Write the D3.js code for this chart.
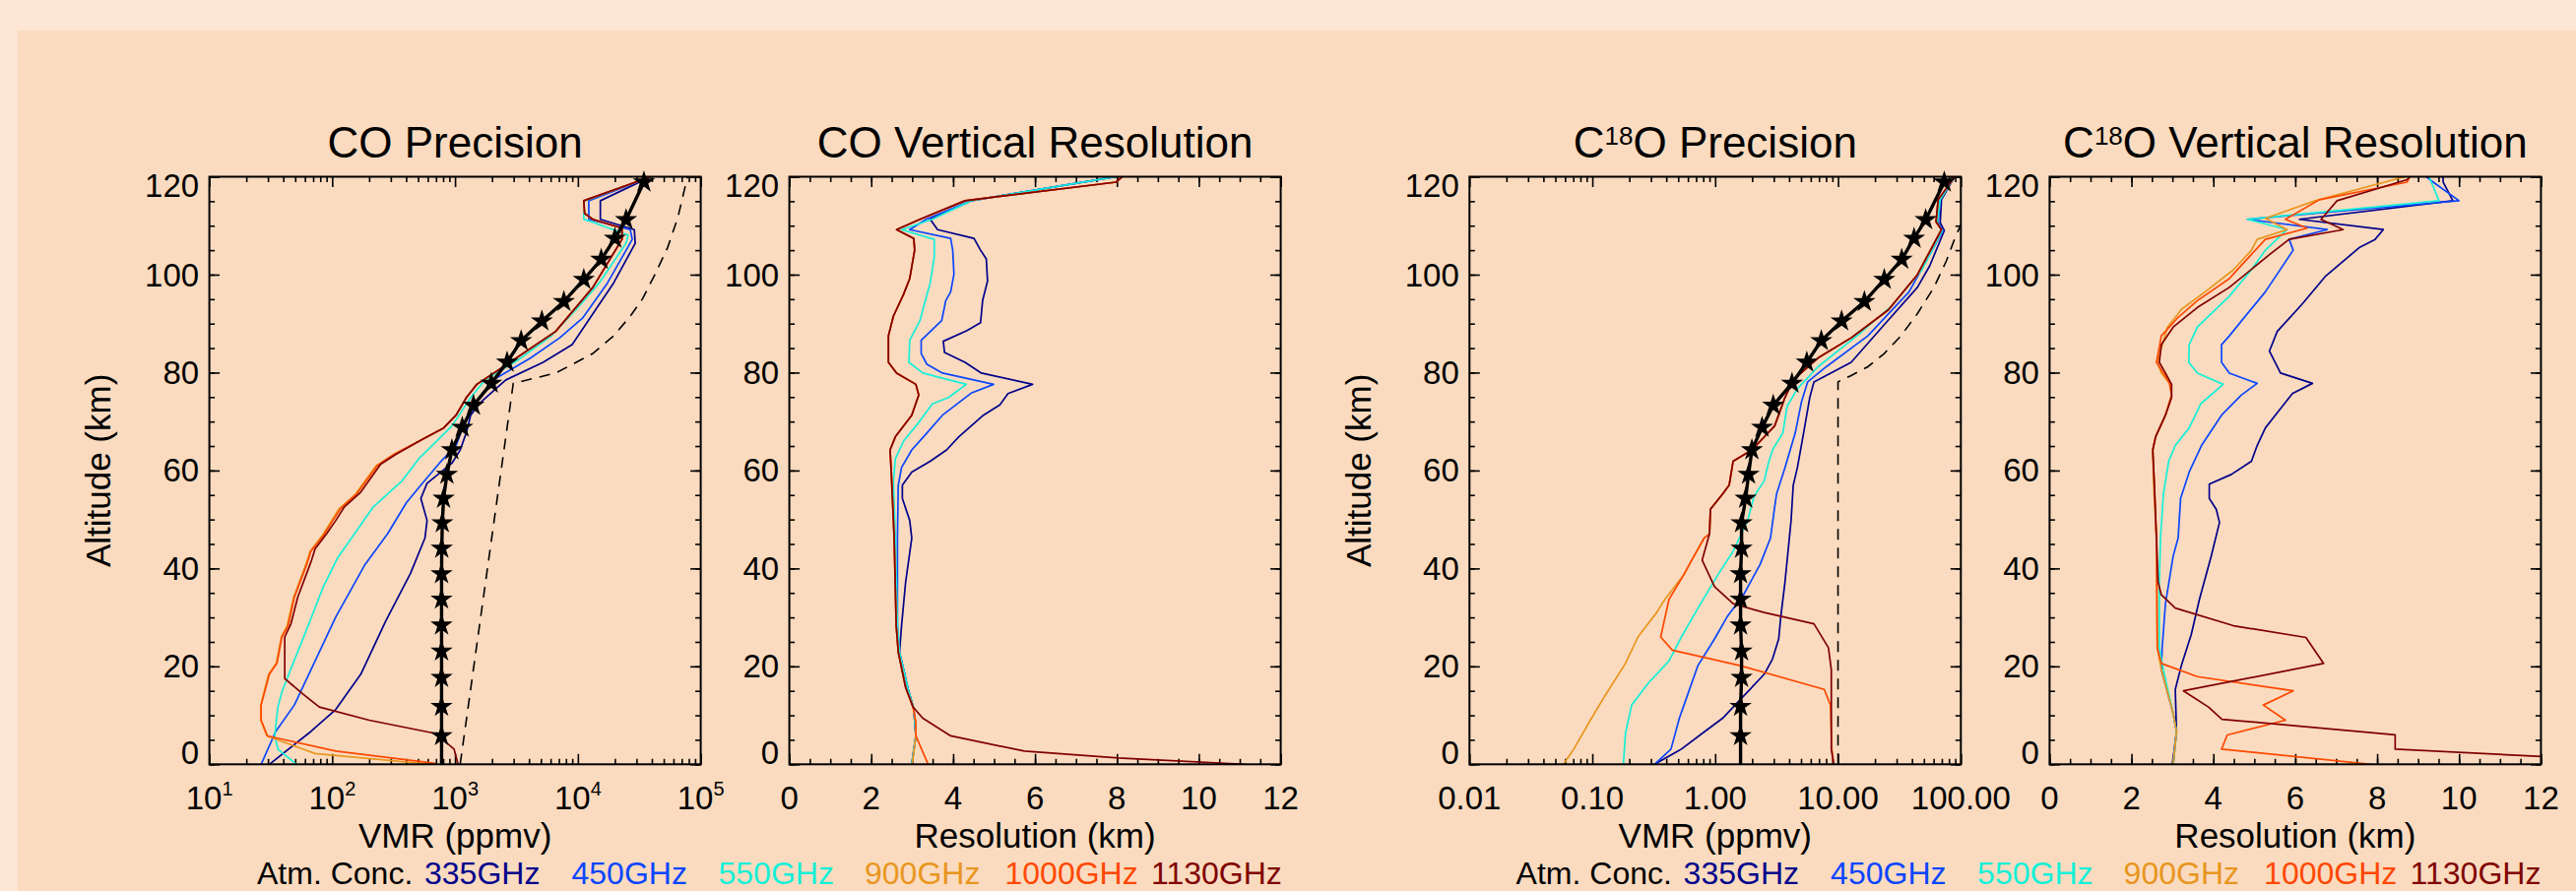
<!DOCTYPE html>
<html><head><meta charset="utf-8">
<script src="https://cdn.jsdelivr.net/npm/d3@7"></script>
<style>body{margin:0;background:#fde6d4;} svg{display:block;font-family:"Liberation Sans",Arial,Helvetica,sans-serif;}</style>
</head><body><svg id="c" width="2616" height="905"></svg>
<script>
// ---------------- DATA ----------------
const legendLabels = ["Atm. Conc.", "335GHz", "450GHz", "550GHz", "900GHz", "1000GHz", "1130GHz"];
const yTicks = [0, 20, 40, 60, 80, 100, 120];
const coTicks = [10, 100, 1000, 10000, 100000];
const c18Ticks = [0.01, 0.1, 1, 10, 100];
const c18TickLabels = ["0.01", "0.10", "1.00", "10.00", "100.00"];
const resTicks = [0, 2, 4, 6, 8, 10, 12];

// atmospheric concentration (altitude km)
const altStar = [0,5.8,11.8,17.7,23.1,28.4,33.7,38.9,44.1,49.3,54.3,59.2,64.2,68.8,73.3,77.8,82.1,86.5,90.5,94.5,99.0,103.1,107.4,111.2,118.9];
const coAtm = [777,777,777,777,777,777,777,777,780,788,807,859,943,1145,1413,1973,2653,3452,5093,7691,11170,15480,20000,24660,34500];
const c18oAtm = [1.61,1.61,1.61,1.64,1.64,1.61,1.61,1.61,1.64,1.64,1.77,1.87,1.99,2.41,2.97,4.22,5.57,7.31,10.7,16.4,23.8,33.0,41.6,51.7,73.3];

// dashed reference curves [value, altitude]
const coDash = [[1101,0],[2979,77.8],[6577,79.9],[9705,82.1],[13240,83.9],[19540,87.5],[26680,91.5],[33650,95.1],[42520,100.1],[53710,105.5],[65200,111.7],[78000,120]];
const c18oDash = [[10,0],[10,78.1],[12.8,79.4],[17.5,81.2],[23.8,83.9],[32.5,87.5],[44.2,92],[60.4,97.4],[76.2,102.8],[89,107.3],[100,110.2]];

// CO precision (ppmv) [value, altitude]
const coPrec335 = [[39350,120],[15240,115.1],[15240,111.3],[28800,109.2],[29300,106.4],[19540,98.3],[13240,92],[8990,85.7],[5213,82.1],[2594,78.5],[1626,74],[1340,71.3],[1238,67.8],[1102,64.2],[944,61.5],[592,57.4],[527,54.3],[592,49.8],[569,46.2],[434,39],[272,29.2],[171,18.4],[107,11.2],[67.1,6.7],[30.8,0]];
const coPrec450 = [[39350,120],[12270,115.1],[12270,111.3],[26680,109.2],[27730,107.2],[17420,98.3],[10910,91.1],[7113,87.1],[4130,83],[2052,78.5],[1504,74],[1191,69.6],[1019,65.1],[746,61.5],[527,57],[401,53.4],[283,47.1],[185,40.8],[107,30.1],[67.1,19.3],[49.2,12.1],[34.7,6.7],[26.4,0]];
const coPrec550 = [[39350,120],[11170,115],[11170,111.3],[13240,110.7],[25650,108.1],[24650,106.4],[14900,98.3],[9705,92.9],[6089,87.5],[3271,82.6],[1757,78.5],[1340,74.9],[944,69.1],[507,62.4],[371,57.9],[215,52.5],[171,48.9],[111,42.2],[84.8,36.3],[59.7,26.5],[47.3,20.2],[39.0,14.8],[36.1,11.7],[34.1,5.8],[36.1,3.1],[51.2,0]];
const coPrec900 = [[39350,120],[11170,115.1],[11340,112.5],[13240,111.3],[22860,109.5],[22860,107.2],[13240,97.4],[6590,88.4],[2800,82.1],[1504,77.6],[1238,74.9],[1019,71.3],[808,68.7],[547,66.4],[318,63.3],[228,61],[155,55.2],[113,52.1],[97,49.4],[83,46.7],[66,43.5],[61,40.8],[48.5,34.1],[43,28.3],[38.5,26],[35,20.6],[30.4,18.4],[26.2,12.1],[26.2,9],[29.4,5.8],[72.6,2.2],[640,0]];
const coPrec1000 = [[39350,120],[11170,115.1],[11340,112.5],[13240,111.3],[22860,109.5],[22860,107.2],[13240,97.4],[6590,88.4],[2800,82.1],[1504,77.6],[1238,74.9],[1019,71.3],[808,68.7],[547,66.4],[318,63.3],[233,61],[158,55.2],[116,52.1],[99,49.4],[84.8,46.7],[67.1,43.5],[62.1,40.8],[49.2,34.1],[43.8,28.3],[39.0,26],[35.5,20.6],[30.8,18.4],[26.4,12.1],[26.4,9],[29.7,5.8],[107,2.7],[692,0.2]];
const coPrec1130 = [[39350,120],[11170,115.1],[11340,112.5],[13240,111.3],[22860,109.5],[22860,107.2],[13240,97.4],[6590,88.4],[2800,82.1],[1504,77.6],[1238,74.9],[1019,71.3],[808,68.7],[547,66.4],[330,63.3],[248,61.3],[171,55.6],[125,52.5],[107,49.8],[90.2,47.1],[72.6,44],[67.1,41.3],[52.4,34.1],[46.2,28.7],[41.1,26],[41.1,17.5],[57.4,14.4],[78.5,11.7],[200,9],[692,6.3],[982,3.1],[1059,0]];

// CO vertical resolution (km) [value, altitude]
const coRes335 = [[7.98,120],[4.44,115.1],[3.44,111.3],[3.62,109.2],[4.51,107.4],[4.67,105],[4.81,103.2],[4.84,98.7],[4.72,94.7],[4.67,90.2],[4.34,88.6],[3.76,86.4],[3.79,84.1],[4.29,82.1],[4.69,79.9],[5.94,77.6],[5.34,75.7],[5.14,73.4],[4.74,71.3],[4.14,66.9],[3.84,64.2],[3.44,61.9],[2.99,59.7],[2.76,57],[2.76,54.3],[2.94,49.8],[2.99,46.2],[2.84,37.2],[2.74,28.3],[2.69,22.9],[2.89,15.7],[3.04,11.2],[3.09,5.8],[2.99,0]];
const coRes450 = [[7.98,120],[4.44,115.1],[3.34,111.3],[2.94,109.2],[3.94,107.4],[3.99,105],[4.02,100.1],[3.94,96.5],[3.82,94.7],[3.72,90.6],[3.22,86.6],[3.22,83.9],[3.36,81.7],[3.74,79.9],[4.99,77.6],[4.44,75.8],[3.74,71.3],[3.32,67.3],[2.99,64.2],[2.74,60.6],[2.66,57],[2.64,46.2],[2.64,28.3],[2.69,22.9],[2.89,15.7],[3.04,11.2],[3.09,5.8],[2.99,0]];
const coRes550 = [[7.98,120],[4.44,115.1],[3.49,111.3],[2.74,109.2],[3.54,107.2],[3.54,103.7],[3.44,98.3],[3.32,94.7],[3.19,90.6],[2.94,86.6],[2.92,82.1],[3.26,79.9],[4.32,77.6],[3.89,74.9],[3.49,73.6],[3.14,69.6],[2.79,66],[2.59,62.4],[2.54,57.9],[2.59,46.2],[2.64,28.3],[2.69,22.9],[2.89,15.7],[3.04,11.2],[3.09,5.8],[2.99,0]];
const coRes900 = [[8.13,120],[7.98,118.9],[4.29,115.1],[3.19,111.3],[2.62,109.2],[3.04,107.4],[3.06,105],[2.94,99.2],[2.79,96],[2.54,91.5],[2.42,87.5],[2.42,82.1],[2.62,79.9],[3.09,77.6],[3.16,75.4],[2.99,71.3],[2.59,66.9],[2.46,64.2],[2.49,59.7],[2.56,46.2],[2.61,28.3],[2.66,22.9],[2.84,15.7],[3.02,11.7],[3.09,8.5],[3.09,5.8],[3.0,0]];
const coRes1000 = [[8.13,120],[7.98,118.9],[4.29,115.1],[3.19,111.3],[2.62,109.2],[3.04,107.4],[3.06,105],[2.94,99.2],[2.79,96],[2.54,91.5],[2.42,87.5],[2.42,82.1],[2.62,79.9],[3.09,77.6],[3.16,75.4],[2.99,71.3],[2.59,66.9],[2.46,64.2],[2.49,59.7],[2.56,46.2],[2.61,28.3],[2.66,22.9],[2.84,15.7],[3.02,11.7],[3.09,8.5],[3.09,5.8],[3.39,0]];
const coRes1130 = [[8.13,120],[7.98,118.9],[4.29,115.1],[3.19,111.3],[2.62,109.2],[3.04,107.4],[3.06,105],[2.94,99.2],[2.79,96],[2.54,91.5],[2.42,87.5],[2.42,82.1],[2.62,79.9],[3.09,77.6],[3.16,75.4],[2.99,71.3],[2.59,66.9],[2.46,64.2],[2.49,59.7],[2.56,46.2],[2.61,28.3],[2.66,22.9],[2.84,15.7],[3.02,11.7],[3.26,9.4],[3.94,5.8],[5.74,2.7],[8.03,1.3],[11.12,0]];

// C18O precision (ppmv) [value, altitude]
const c18Prec335 = [[89,120],[69.5,115.3],[67.9,110.6],[73.3,109],[55.8,101.8],[44.3,97.4],[23.8,89.8],[12.8,82.1],[6.37,78.1],[5.89,74.9],[5.25,67.7],[4.67,60.6],[4.32,57],[4.15,49.8],[3.70,37.2],[3.42,30.1],[3.29,25.6],[2.93,21.5],[2.51,18.4],[1.70,13.9],[1.15,9.4],[0.783,6.3],[0.531,3.1],[0.321,0]];
const c18Prec450 = [[89,120],[67.9,115.3],[65.3,110.6],[71.6,109],[37.9,96.5],[17.5,87.5],[8.03,81.2],[5.66,78.1],[5.04,74],[4.49,67.7],[3.70,60.6],[3.16,55.2],[3.05,52.5],[2.82,46.2],[2.32,40.8],[1.70,34.6],[1.25,30.1],[0.988,25.6],[0.725,20.2],[0.574,13],[0.511,9.4],[0.437,3.1],[0.321,0]];
const c18Prec550 = [[89,120],[67.9,115.3],[64.3,110.6],[70.5,109],[47.9,100.9],[27.8,93.8],[14.9,87.9],[6.88,81.2],[4.67,76.7],[3.85,73.1],[3.56,67.7],[2.93,64.2],[2.71,61.5],[2.51,57.9],[2.07,54.7],[1.84,49.8],[1.40,43.5],[1.07,39],[0.725,31.9],[0.531,26],[0.421,21.1],[0.286,16.6],[0.209,12.1],[0.186,6.3],[0.179,0]];
const c18Prec900 = [[89,120],[65.3,115.3],[62.8,110.8],[69.5,109.2],[44.3,100],[25.7,92.8],[12.8,87.1],[6.88,83],[4.32,78.5],[3.70,74.9],[3.05,69.1],[1.99,64.2],[1.40,61.9],[1.30,57],[1.15,55.2],[0.915,52.1],[0.900,47.1],[0.814,46.2],[0.645,41.7],[0.552,38.6],[0.390,33.7],[0.334,31],[0.235,26],[0.186,20.6],[0.126,13.9],[0.0964,9],[0.0706,3.1],[0.0582,0]];
const c18Prec1000 = [[89,120],[65.3,115.3],[62.8,110.8],[69.5,109.2],[44.3,100],[25.7,92.8],[12.8,87.1],[6.88,83],[4.32,78.5],[3.70,74.9],[3.05,69.1],[1.99,64.2],[1.40,61.9],[1.30,57],[1.15,55.2],[0.915,52.1],[0.900,47.1],[0.814,46.2],[0.645,41.7],[0.552,38.6],[0.421,33.7],[0.360,26],[0.448,23.3],[1.57,20.2],[7.73,15.3],[8.68,12.1],[8.90,3.1],[9.23,0]];
const c18Prec1130 = [[89,120],[65.3,115.3],[62.8,110.8],[69.5,109.2],[44.3,100],[25.7,92.8],[12.8,87.1],[6.88,83],[4.32,78.5],[3.70,74.9],[3.05,69.1],[1.99,64.2],[1.40,61.9],[1.30,57],[1.15,55.2],[0.915,52.1],[0.900,47.1],[0.783,41.7],[0.988,36.3],[1.40,32.8],[2.51,31],[6.37,28.7],[8.36,23.8],[8.82,19.3],[8.82,3.1],[9.23,0]];

// C18O vertical resolution (km) [value, altitude]
const c18Res335 = [[9.61,120],[9.61,118.9],[9.85,115.1],[6.10,111.3],[8.15,109.2],[7.95,107.2],[7.56,105.5],[6.73,99.6],[6.15,93.8],[5.56,88.4],[5.37,84.4],[5.64,79.9],[6.42,77.8],[5.93,75.7],[5.56,71.8],[5.27,68.7],[5.07,65.1],[4.93,61.9],[4.44,59.2],[3.90,57.2],[3.90,54.3],[4.07,52.1],[4.15,49.4],[3.95,42.6],[3.66,33.7],[3.46,26.5],[3.22,20.2],[3.07,15.3],[3.10,6.7],[3.00,0]];
const c18Res450 = [[9.2,120],[9.37,118.9],[10.0,115.1],[4.83,111.3],[6.78,109.2],[5.85,107.2],[5.95,105],[5.27,96.5],[4.39,87.5],[4.20,85.7],[4.20,82.1],[4.39,79.9],[5.07,77.8],[4.68,75.4],[4.20,71.3],[3.71,65.1],[3.41,59.7],[3.20,54.3],[3.14,46.2],[3.02,42.6],[2.83,32.8],[2.75,23.8],[2.73,19.3],[3.02,10.3],[3.10,6.7],[3.02,0]];
const c18Res550 = [[9.27,120],[9.51,115.1],[4.83,111.3],[5.80,109.2],[5.27,105],[4.93,101],[4.39,95.6],[3.61,89.3],[3.41,85.7],[3.40,82.1],[3.61,79.9],[4.24,77.6],[3.69,73.6],[3.41,68.7],[3.07,65.1],[2.91,61.9],[2.78,55.2],[2.71,46.2],[2.68,37.2],[2.68,23.8],[2.78,19.3],[3.02,10.3],[3.10,6.7],[3.02,0]];
const c18Res900 = [[8.68,120],[6.49,115.1],[5.27,111.5],[5.80,109.2],[5.07,107.2],[4.93,105],[4.49,101],[3.80,96.5],[3.22,92.9],[2.88,89.3],[2.63,82.1],[2.73,79.9],[2.93,77.8],[2.98,75.4],[2.83,71.3],[2.59,66.9],[2.52,64.2],[2.54,57],[2.61,46.2],[2.63,23.8],[2.73,19.3],[3.02,10.3],[3.10,6.7],[3.02,0]];
const c18Res1000 = [[8.8,120],[8.73,118.9],[6.59,115.3],[5.76,111.3],[6.29,109.5],[5.27,107.2],[4.98,104.6],[4.39,99.2],[3.61,94.7],[3.12,91.1],[2.73,87.5],[2.61,82.1],[2.78,79.9],[2.93,77.8],[2.98,75.4],[2.83,71.3],[2.59,66.9],[2.52,64.2],[2.56,57],[2.61,46.2],[2.63,23.8],[2.73,20.6],[3.61,17.9],[5.95,15],[5.22,12.1],[5.76,9],[4.34,6],[4.20,3.1],[7.85,0]];
const c18Res1130 = [[8.8,120],[8.73,119.4],[7.02,115.1],[6.63,111.3],[7.17,109.2],[5.85,107.2],[5.37,104.1],[4.39,97.4],[3.61,93.3],[3.02,89.3],[2.73,85.7],[2.68,82.1],[2.83,79.9],[2.98,77.6],[2.98,74.9],[2.83,71.3],[2.59,66.9],[2.52,64.2],[2.56,57],[2.61,46.2],[2.65,37.2],[2.73,34.6],[3.07,31.9],[4.49,28.3],[6.26,25.9],[6.69,20.6],[3.27,15],[3.88,11.7],[4.21,9.2],[8.44,6],[8.44,3.1],[15.8,0]];

// ---------------- STYLE / LAYOUT ----------------
const colors = ["#000000", "#00008c", "#0a46ff", "#14f0d8", "#e8961e", "#ff4800", "#800000"];
const PT = 179.5, PB = 776.3, PW = 499;
const svg = d3.select("#c");
svg.append("rect").attr("x",0).attr("y",0).attr("width",2616).attr("height",905).attr("fill","#fde6d4");
svg.append("rect").attr("x",18).attr("y",31).attr("width",2598).attr("height",874).attr("fill","#fadbbf");

const panels = [
  {left:212.6, kind:"log", domain:[10,1e5], ticks:coTicks, tickLab:d=>["10", String(Math.round(Math.log10(d)))],
   title:[["CO Precision"]], xlabel:"VMR (ppmv)", ylab:true,
   series:[coPrec335,coPrec450,coPrec550,coPrec900,coPrec1000,coPrec1130], atm:coAtm, dash:coDash},
  {left:801.6, kind:"lin", domain:[0,12], ticks:resTicks, tickLab:d=>[String(d)],
   title:[["CO Vertical Resolution"]], xlabel:"Resolution (km)", ylab:false,
   series:[coRes335,coRes450,coRes550,coRes900,coRes1000,coRes1130]},
  {left:1492.3, kind:"log", domain:[0.01,100], ticks:c18Ticks, tickLab:(d,i)=>[c18TickLabels[i]],
   title:[["C"],["18","sup"],["O Precision"]], xlabel:"VMR (ppmv)", ylab:true,
   series:[c18Prec335,c18Prec450,c18Prec550,c18Prec900,c18Prec1000,c18Prec1130], atm:c18oAtm, dash:c18oDash},
  {left:2081.4, kind:"lin", domain:[0,12], ticks:resTicks, tickLab:d=>[String(d)],
   title:[["C"],["18","sup"],["O Vertical Resolution"]], xlabel:"Resolution (km)", ylab:false,
   series:[c18Res335,c18Res450,c18Res550,c18Res900,c18Res1000,c18Res1130]}
];

const y = d3.scaleLinear().domain([0,120]).range([PB,PT]);
const yMinor = d3.range(0,121,5);

panels.forEach((p,pi)=>{
  const L = p.left, R = L+PW;
  const x = (p.kind==="log" ? d3.scaleLog() : d3.scaleLinear()).domain(p.domain).range([L,R]);
  let xMinor;
  if(p.kind==="log"){
    xMinor=[]; const e0=Math.log10(p.domain[0]), e1=Math.log10(p.domain[1]);
    for(let e=e0;e<e1;e++) for(let k=2;k<=9;k++) xMinor.push(k*Math.pow(10,e));
  } else xMinor = d3.range(0,12.01,0.5);

  const g = svg.append("g");
  const cid = "clip"+pi;
  svg.append("clipPath").attr("id",cid).append("rect").attr("x",L).attr("y",PT).attr("width",PW).attr("height",PB-PT);

  // ticks (inward, all four sides)
  const addAxis = (axis, tx, ty) => {
    const a = g.append("g").attr("transform",`translate(${tx},${ty})`).call(axis);
    a.select(".domain").remove();
    a.selectAll("line").attr("stroke","#000").attr("stroke-width",1.6);
    a.selectAll("text").remove();
  };
  addAxis(d3.axisLeft(y).tickValues(yTicks).tickSize(-10.5).tickSizeOuter(0),L,0);
  addAxis(d3.axisLeft(y).tickValues(yMinor).tickSize(-5.5).tickSizeOuter(0),L,0);
  addAxis(d3.axisRight(y).tickValues(yTicks).tickSize(-10.5).tickSizeOuter(0),R,0);
  addAxis(d3.axisRight(y).tickValues(yMinor).tickSize(-5.5).tickSizeOuter(0),R,0);
  addAxis(d3.axisBottom(x).tickValues(p.ticks).tickSize(-10.5).tickSizeOuter(0),0,PB);
  addAxis(d3.axisBottom(x).tickValues(xMinor).tickSize(-5.5).tickSizeOuter(0),0,PB);
  addAxis(d3.axisTop(x).tickValues(p.ticks).tickSize(-10.5).tickSizeOuter(0),0,PT);
  addAxis(d3.axisTop(x).tickValues(xMinor).tickSize(-5.5).tickSizeOuter(0),0,PT);

  // y tick labels
  yTicks.forEach(t=>{
    const off = t===0 ? -12 : (t===120 ? 9 : 0);
    g.append("text").attr("x",L-10.5).attr("y",y(t)+off).attr("dy","0.35em")
      .attr("text-anchor","end").attr("font-size",33).text(t);
  });
  // x tick labels
  p.ticks.forEach((t,i)=>{
    const parts = p.tickLab(t,i);
    const tx = g.append("text").attr("x",x(t)).attr("y",822).attr("text-anchor","middle").attr("font-size",33);
    tx.append("tspan").text(parts[0]);
    if(parts.length>1) tx.append("tspan").attr("font-size",20).attr("dy",-14).text(parts[1]);
  });
  // x label
  g.append("text").attr("x",L+PW/2).attr("y",861).attr("text-anchor","middle").attr("font-size",35).text(p.xlabel);
  // y label
  if(p.ylab){
    g.append("text").attr("transform",`translate(${L-100.5},${(PT+PB)/2}) rotate(-90)`)
      .attr("text-anchor","middle").attr("font-size",35).text("Altitude (km)");
  }
  // title
  const tt = g.append("text").attr("x",L+PW/2).attr("y",160).attr("text-anchor","middle").attr("font-size",44);
  let supShift = 0;
  p.title.forEach(part=>{
    if(part[1]==="sup"){ supShift = 13; tt.append("tspan").attr("font-size",26).attr("dy",-supShift).text(part[0]); }
    else { const d = supShift; supShift = 0; tt.append("tspan").attr("dy", d).text(part[0]); }
  });

  // data
  const line = d3.line().x(d=>x(d[0])).y(d=>y(d[1]));
  const dg = g.append("g").attr("clip-path",`url(#${cid})`);
  if(p.dash) dg.append("path").attr("d",line(p.dash)).attr("fill","none").attr("stroke","#000")
      .attr("stroke-width",1.6).attr("stroke-dasharray","11,8");
  p.series.forEach((s,si)=>{
    dg.append("path").attr("d",line(s)).attr("fill","none").attr("stroke",colors[si+1])
      .attr("stroke-width",1.7).attr("stroke-linejoin","round");
  });
  if(p.atm){
    const pts = altStar.map((a,i)=>[p.atm[i],a]);
    dg.append("path").attr("d",line(pts)).attr("fill","none").attr("stroke","#000").attr("stroke-width",3.4);
    const star = d3.symbol(d3.symbolStar, 160);
    g.selectAll(null).data(pts.filter(d=>d[1]>0)).enter().append("path")
      .attr("d",star).attr("transform",d=>`translate(${x(d[0])},${y(d[1])})`).attr("fill","#000");
  }
  // frame
  g.append("rect").attr("x",L).attr("y",PT).attr("width",PW).attr("height",PB-PT)
    .attr("fill","none").attr("stroke","#000").attr("stroke-width",2);
});

// legends
const legOffsets = [0,170,319.5,468.5,617,759.5,908];
[261, 1539.6].forEach(lx=>{
  legendLabels.forEach((lab,i)=>{
    svg.append("text").attr("x",lx+legOffsets[i]).attr("y",898).attr("font-size",32)
      .attr("fill",colors[i]).text(lab);
  });
});
</script></body></html>
